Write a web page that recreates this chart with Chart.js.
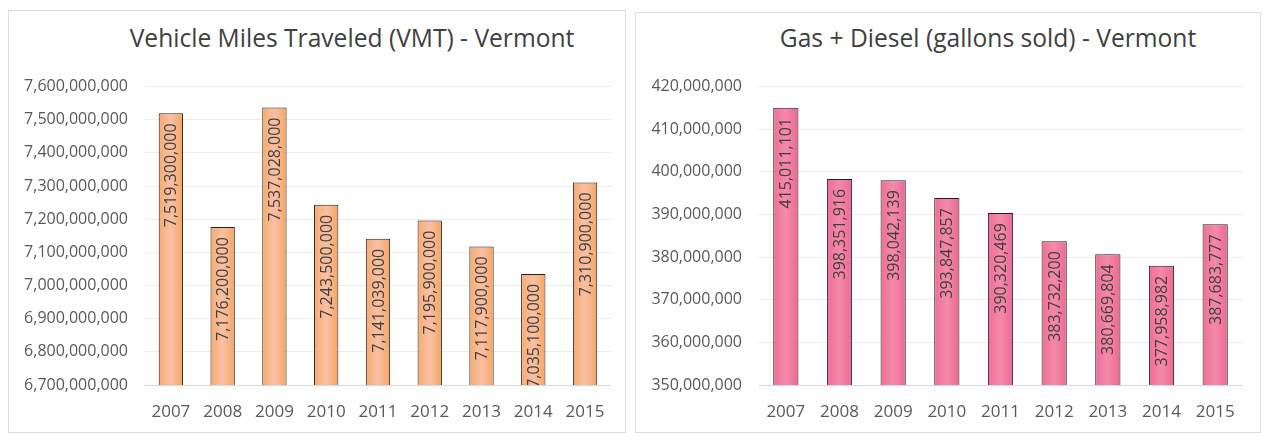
<!DOCTYPE html>
<html>
<head>
<meta charset="utf-8">
<script src="https://cdn.jsdelivr.net/npm/chart.js@4/dist/chart.umd.min.js"></script>
<style>
    body { margin: 0; background: #fff; width: 1265px; height: 433px; overflow: hidden; position: relative; font-family: 'Open Sans', sans-serif; }
    .panel { position: absolute; border: 1px solid #dcdcdc; box-sizing: border-box; }
    .title { position: absolute; top: 21px; width: 600px; text-align: center; font-size: 24.6px; color: #404040; white-space: nowrap; }
    canvas { position: absolute; }
</style>
</head>
<body>
<div class="panel" style="left:8px; top:10px; width:618px; height:423px;"></div>
<div class="panel" style="left:635px; top:12px; width:626px; height:421px;"></div>
<div class="title" style="left:52px;">Vehicle Miles Traveled (VMT) - Vermont</div>
<div class="title" style="left:688px;">Gas + Diesel (gallons sold) - Vermont</div>
<canvas id="vmtChart" style="left:10px; top:60px;" width="612" height="365"></canvas>
<canvas id="fuelChart" style="left:637px; top:60px;" width="620" height="365"></canvas>
<script>
const years = ['2007', '2008', '2009', '2010', '2011', '2012', '2013', '2014', '2015'];
const vmtValues = [7519300000, 7176200000, 7537028000, 7243500000, 7141039000, 7195900000, 7117900000, 7035100000, 7310900000];
const fuelValues = [415011101, 398351916, 398042139, 393847857, 390320469, 383732200, 380669804, 377958982, 387683777];
const vmtTicks = { min: 6700000000, max: 7600000000, step: 100000000 };
const fuelTicks = { min: 350000000, max: 420000000, step: 10000000 };

const fontColor = '#595959';
const fmt = v => Number(v).toLocaleString('en-US');

// value labels rotated inside the top of each bar
const barLabels = {
    id: 'barLabels',
    afterDatasetsDraw(chart) {
        const ctx = chart.ctx;
        const meta = chart.getDatasetMeta(0);
        const data = chart.data.datasets[0].data;
        ctx.save();
        ctx.beginPath();
        ctx.rect(chart.chartArea.left, chart.chartArea.top, chart.chartArea.width, chart.chartArea.height);
        ctx.clip();
        ctx.font = '16px "Open Sans"';
        ctx.fillStyle = '#404040';
        ctx.textAlign = 'right';
        ctx.textBaseline = 'middle';
        meta.data.forEach((bar, i) => {
            ctx.save();
            ctx.translate(bar.x + 1, bar.y + 10);
            ctx.rotate(-Math.PI / 2);
            ctx.fillText(fmt(data[i]), 0, 0);
            ctx.restore();
        });
        ctx.restore();
    }
};

function barGradient(stops) {
    return function(c) {
        const chart = c.chart;
        const xs = chart.scales.x;
        if (!xs || !xs.width) return stops[1];
        const cx = xs.getPixelForValue(c.dataIndex);
        const half = xs.width / years.length * 0.47 / 2;
        if (!Number.isFinite(cx) || !Number.isFinite(half)) return stops[1];
        const g = chart.ctx.createLinearGradient(cx - half, 0, cx + half, 0);
        g.addColorStop(0, stops[0]);
        g.addColorStop(0.5, stops[1]);
        g.addColorStop(1, stops[2]);
        return g;
    };
}

function makeChart(canvasId, values, range, axisWidth, padRight, colors) {
    const ctx = document.getElementById(canvasId).getContext('2d');
    const chart = new Chart(ctx, {
        type: 'bar',
        data: {
            labels: years,
            datasets: [{
                data: values,
                backgroundColor: barGradient(colors),
                borderColor: '#231f1f',
                borderWidth: 1,
                categoryPercentage: 1,
                barPercentage: 0.47
            }]
        },
        options: {
            responsive: false,
            animation: false,
            layout: { padding: { top: 20, right: padRight, left: 0, bottom: 0 } },
            scales: {
                y: {
                    min: range.min,
                    max: range.max,
                    afterFit: s => { s.width = axisWidth; },
                    ticks: {
                        stepSize: range.step,
                        padding: 17,
                        color: fontColor,
                        font: { family: 'Open Sans', size: 16 },
                        callback: v => fmt(v)
                    },
                    grid: { color: '#ededed', drawTicks: false },
                    border: { display: false }
                },
                x: {
                    afterFit: s => { s.height = 40; },
                    ticks: {
                        padding: 17,
                        color: fontColor,
                        font: { family: 'Open Sans', size: 17 }
                    },
                    grid: { display: false, drawTicks: false },
                    border: { color: '#d9d9d9', width: 1 }
                }
            },
            plugins: {
                legend: { display: false },
                tooltip: { enabled: false },
                title: { display: false }
            }
        },
        plugins: [barLabels]
    });
    chart.update('none');
    return chart;
}

makeChart('vmtChart', vmtValues, vmtTicks, 135, 9, ['#f6ab6e', '#f9c0a6', '#f5a560']);
makeChart('fuelChart', fuelValues, fuelTicks, 122, 15, ['#ee6e96', '#f48aab', '#ec6891']);
</script>
</body>
</html>
